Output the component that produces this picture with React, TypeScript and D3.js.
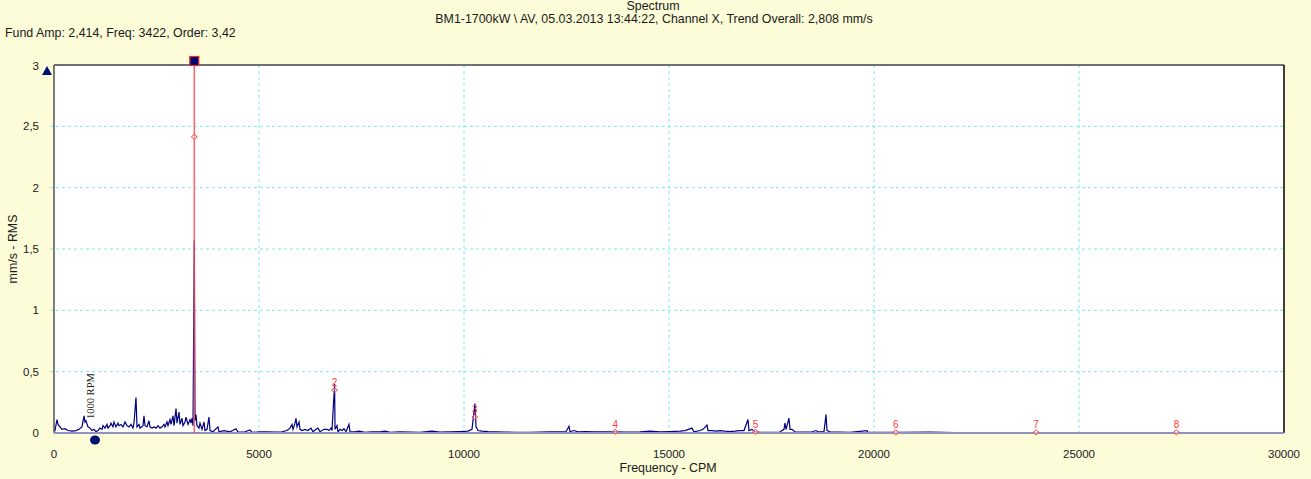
import React from "react";
import * as d3 from "d3";

// Spectrum readings: frequency in CPM, amplitude in mm/s RMS
const freqCpm: number[] = [
  0, 24, 73, 98, 146, 195, 268, 341, 439, 537, 610, 683, 732, 756, 780, 829, 878, 927, 976, 1024,
  1073, 1122, 1171, 1195, 1244, 1293, 1317, 1366, 1390, 1439, 1463, 1512, 1561, 1585, 1634, 1683,
  1732, 1780, 1829, 1878, 1927, 1951, 2000, 2024, 2073, 2098, 2171, 2195, 2220, 2268, 2317, 2341,
  2390, 2439, 2488, 2537, 2585, 2634, 2683, 2707, 2756, 2780, 2829, 2854, 2902, 2927, 2976, 3000,
  3049, 3073, 3122, 3146, 3195, 3220, 3268, 3317, 3341, 3366, 3390, 3422, 3439, 3463, 3488, 3537,
  3561, 3610, 3659, 3683, 3732, 3780, 3805, 3878, 4000, 4024, 4146, 4293, 4439, 4488, 4659, 4780,
  4829, 5024, 5220, 5390, 5561, 5683, 5756, 5805, 5829, 5878, 5902, 5927, 5976, 6000, 6049, 6122,
  6195, 6268, 6317, 6390, 6439, 6488, 6585, 6659, 6707, 6756, 6780, 6844, 6854, 6902, 6927, 6976,
  7024, 7073, 7122, 7195, 7220, 7341, 7439, 7585, 7756, 7951, 8073, 8195, 8439, 8683, 8927, 9220,
  9415, 9659, 9902, 10098, 10195, 10266, 10293, 10341, 10439, 10585, 10756, 11000, 11244, 11610,
  11854, 12098, 12341, 12488, 12561, 12585, 12683, 12780, 12951, 13195, 13439, 13683, 13927, 14293,
  14537, 14780, 15024, 15268, 15390, 15561, 15610, 15756, 15829, 15927, 15951, 16049, 16146, 16244,
  16366, 16488, 16610, 16732, 16829, 16927, 16951, 17024, 17098, 17220, 17463, 17707, 17805, 17829,
  17854, 17878, 17927, 17951, 18000, 18073, 18317, 18488, 18585, 18634, 18780, 18829, 18854, 18927,
  19171, 19415, 19829, 19854, 20146, 20634, 21366, 22000, 23000, 24500, 26000, 27500, 29000, 29400,
];

const ampMmS: number[] = [
  0.02, 0.02, 0.11, 0.07, 0.05, 0.03, 0.035, 0.02, 0.015, 0.02, 0.03, 0.05, 0.14, 0.09, 0.1, 0.05, 0.04, 0.02, 0.03, 0.01,
  0.02, 0.04, 0.03, 0.06, 0.04, 0.07, 0.04, 0.06, 0.08, 0.05, 0.09, 0.05, 0.08, 0.06, 0.07, 0.05,
  0.09, 0.06, 0.05, 0.07, 0.04, 0.08, 0.29, 0.05, 0.07, 0.04, 0.06, 0.14, 0.06, 0.05, 0.1, 0.05,
  0.04, 0.05, 0.04, 0.06, 0.04, 0.05, 0.07, 0.05, 0.09, 0.06, 0.11, 0.07, 0.14, 0.06, 0.2, 0.08,
  0.17, 0.07, 0.12, 0.06, 0.09, 0.13, 0.07, 0.11, 0.08, 0.12, 0.06, 1.57, 0.1, 0.15, 0.06, 0.04,
  0.08, 0.03, 0.09, 0.02, 0.03, 0.13, 0.02, 0.01, 0.05, 0.01, 0.02, 0.01, 0.035, 0.008, 0.01, 0.025,
  0.005, 0.01, 0.01, 0.008, 0.01, 0.02, 0.04, 0.07, 0.03, 0.08, 0.12, 0.05, 0.09, 0.03, 0.02, 0.03,
  0.02, 0.04, 0.01, 0.03, 0.04, 0.01, 0.03, 0.03, 0.02, 0.04, 0.02, 0.4, 0.03, 0.06, 0.01, 0.03,
  0.02, 0.035, 0.01, 0.07, 0.01, 0.01, 0.015, 0.005, 0.01, 0.01, 0.015, 0.005, 0.01, 0.008, 0.005, 0.015,
  0.008, 0.01, 0.012, 0.015, 0.03, 0.24, 0.05, 0.02, 0.015, 0.012, 0.01, 0.008, 0.005, 0.005,
  0.008, 0.01, 0.01, 0.01, 0.055, 0.01, 0.02, 0.01, 0.012, 0.01, 0.01, 0.01, 0.008, 0.01,
  0.015, 0.01, 0.012, 0.015, 0.02, 0.04, 0.01, 0.02, 0.03, 0.065, 0.02, 0.02, 0.015, 0.02,
  0.015, 0.012, 0.015, 0.02, 0.02, 0.11, 0.02, 0.03, 0.01, 0.005, 0.005, 0.008, 0.03, 0.08,
  0.03, 0.06, 0.12, 0.03, 0.03, 0.01, 0.008, 0.01, 0.02, 0.01, 0.01, 0.15, 0.02, 0.01,
  0.008, 0.005, 0.02, 0.005, 0.005, 0.005, 0.008, 0.004, 0.003, 0.004, 0.003, 0.004, 0.003, 0.003,
];

// Harmonic cursor: fundamental and marked amplitudes per order
const fundamentalCpm = 3422;
const harmonicOrders: number[] = [1, 2, 3, 4, 5, 6, 7, 8];
const harmonicAmps: number[] = [2.414, 0.35, 0.13, 0.01, 0.01, 0.005, 0.005, 0.005];

const runningSpeedCpm = 1000;

const xTicks: number[] = [0, 5000, 10000, 15000, 20000, 25000, 30000];
const yTicks: number[] = [0, 0.5, 1, 1.5, 2, 2.5, 3];
const yTickLabels: string[] = ["0", "0,5", "1", "1,5", "2", "2,5", "3"];

const W = 1311;
const H = 479;
const M = { left: 54, right: 27, top: 65, bottom: 46 };
const FONT = "'Liberation Sans', Arial, sans-serif";
const TEXT = "#1a1a1a";

export default function App() {
  const x = d3.scaleLinear().domain([0, 30000]).range([M.left, W - M.right]);
  const y = d3.scaleLinear().domain([0, 3]).range([H - M.bottom, M.top]);

  const pts: [number, number][] = freqCpm.map((f, i) => [f, ampMmS[i]]);
  const line = d3
    .line<[number, number]>()
    .x((d) => x(d[0]))
    .y((d) => y(d[1]));

  const x0 = x(0);
  const x1 = x(30000);
  const yb = y(0);
  const yt = y(3);
  const cx = x(fundamentalCpm);

  return (
    <svg
      width={W}
      height={H}
      style={{ position: "absolute", left: 0, top: 0, display: "block" }}
      fontFamily={FONT}
    >
      <rect x={0} y={0} width={W} height={H} fill="#fcfcd8" />

      {/* titles */}
      <text x={653} y={9.5} fontSize={12.4} textAnchor="middle" fill={TEXT}>
        Spectrum
      </text>
      <text x={654} y={22.5} fontSize={12.4} textAnchor="middle" fill={TEXT}>
        BM1-1700kW \ AV, 05.03.2013 13:44:22, Channel X, Trend Overall: 2,808 mm/s
      </text>
      <text x={5} y={36.5} fontSize={12.4} fill={TEXT}>
        Fund Amp: 2,414, Freq: 3422, Order: 3,42
      </text>

      {/* plot area */}
      <rect x={x0} y={yt} width={x1 - x0} height={yb - yt} fill="#ffffff" />

      {/* grid */}
      {yTicks
        .filter((t) => t > 0 && t < 3)
        .map((t) => (
          <line
            key={"gy" + t}
            x1={x0 - 4}
            x2={x1}
            y1={y(t)}
            y2={y(t)}
            stroke="#7fe6f0"
            strokeDasharray="3,3"
          />
        ))}
      {xTicks
        .filter((t) => t > 0 && t < 30000)
        .map((t) => (
          <line
            key={"gx" + t}
            x1={x(t)}
            x2={x(t)}
            y1={yt}
            y2={yb + 3}
            stroke="#7fe6f0"
            strokeDasharray="3,3"
          />
        ))}

      {/* spectrum */}
      <path d={line(pts) ?? ""} fill="none" stroke="#000080" strokeWidth={1.2} />

      {/* frame */}
      <line x1={x0} x2={x1} y1={yt} y2={yt} stroke="#707070" strokeWidth={2} />
      <line x1={x0} x2={x0} y1={yt} y2={yb} stroke="#505050" strokeWidth={1.5} />
      <line x1={x1} x2={x1} y1={yt} y2={yb} stroke="#000000" strokeWidth={1.5} />
      <line x1={x0} x2={x1} y1={yb} y2={yb} stroke="#9090c0" strokeWidth={2} />

      {/* cursor at fundamental */}
      <line x1={cx} x2={cx} y1={yt - 2} y2={yb} stroke="#ff4848" strokeOpacity={0.85} strokeWidth={1.5} />
      <rect x={cx - 4.5} y={yt - 8.5} width={9} height={9} fill="#000070" stroke="#e03030" strokeWidth={1.2} />

      {/* harmonic markers */}
      {harmonicOrders.map((n, i) => {
        const hx = x(n * fundamentalCpm);
        const hy = y(harmonicAmps[i]);
        return (
          <g key={"h" + n}>
            <path
              d={`M${hx - 3},${hy} L${hx},${hy - 2.5} L${hx + 3},${hy} L${hx},${hy + 2.5} Z`}
              fill="#ffffff"
              fillOpacity={0.4}
              stroke="#ff4040"
              strokeWidth={1}
            />
            {n > 1 && (
              <text x={hx} y={hy - 4} fontSize={10} textAnchor="middle" fill="#ff4040">
                {n}
              </text>
            )}
          </g>
        );
      })}

      {/* running speed marker */}
      <ellipse cx={x(runningSpeedCpm)} cy={yb + 7} rx={5} ry={4.5} fill="#00106e" />
      <text
        transform={`translate(${x(runningSpeedCpm) - 1},${yb - 14}) rotate(-90)`}
        fontSize={10.5}
        fontFamily="'Liberation Serif', 'Times New Roman', serif"
        fill={TEXT}
      >
        1000 RPM
      </text>

      {/* top-left scale marker */}
      <path d={`M${x0 - 7},${yt + 1} L${x0 - 12},${yt + 10} L${x0 - 2},${yt + 10} Z`} fill="#00106e" />

      {/* y axis labels */}
      {yTicks.map((t, i) => (
        <text
          key={"yl" + t}
          x={39}
          y={t === 3 ? y(t) + 5 : y(t) + 4}
          fontSize={11.5}
          textAnchor="end"
          fill={TEXT}
        >
          {yTickLabels[i]}
        </text>
      ))}
      <text
        transform={`translate(17,${(yt + yb) / 2}) rotate(-90)`}
        fontSize={12.4}
        textAnchor="middle"
        fill={TEXT}
      >
        mm/s - RMS
      </text>

      {/* x axis labels */}
      {xTicks.map((t) => (
        <text key={"xl" + t} x={x(t)} y={458} fontSize={11.5} textAnchor="middle" fill={TEXT}>
          {String(t)}
        </text>
      ))}
      <text x={668} y={472} fontSize={12.4} textAnchor="middle" fill={TEXT}>
        Frequency - CPM
      </text>
    </svg>
  );
}
